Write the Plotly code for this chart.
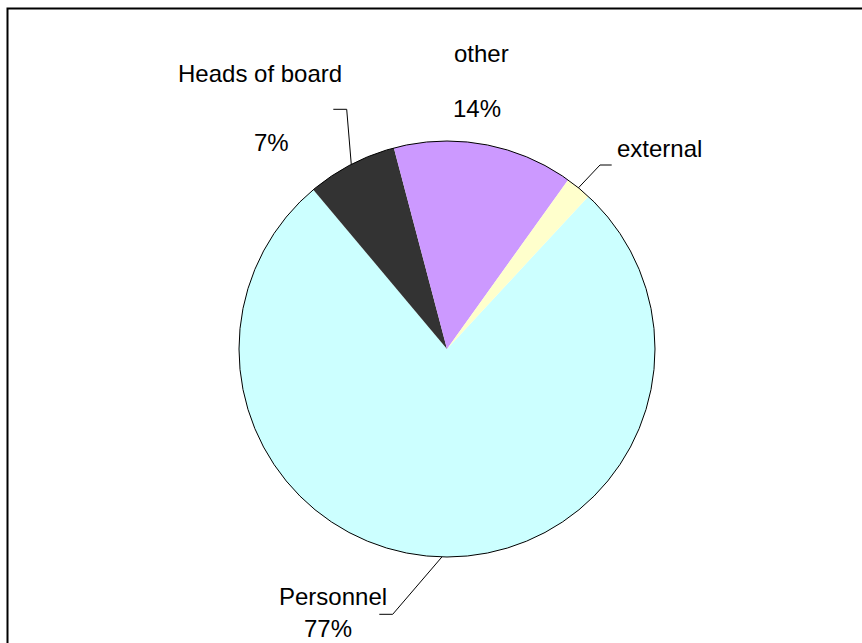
import math
import plotly.graph_objects as go

# Canvas size (px)
W, H = 862, 643

# Data
labels = ["Personnel", "Heads of board", "other", "external"]
values = [77, 7, 14, 2]
colors = ["#CCFFFF", "#333333", "#CC99FF", "#FFFFCC"]
show_pct = [True, True, True, False]
start_angle = 42.8  # first slice starts here, degrees clockwise from 12 o'clock

# Pie geometry (px)
cx, cy, rad = 447, 349, 208
FONT = dict(family="Arial, Liberation Sans, sans-serif", size=24, color="#000000")


def px(x):
    return x / W


def py(y):
    return 1 - y / H


def mid_point(idx):
    """Point on the rim at the middle angle of slice idx."""
    total = sum(values)
    ang = start_angle + 360 * (sum(values[:idx]) + values[idx] / 2) / total
    a = math.radians(ang)
    return cx + rad * math.sin(a), cy - rad * math.cos(a)


fig = go.Figure(
    go.Pie(
        labels=labels,
        values=values,
        sort=False,
        direction="clockwise",
        rotation=start_angle,
        marker=dict(colors=colors, line=dict(width=0)),
        textinfo="none",
        hoverinfo="label+percent",
        showlegend=False,
        domain=dict(x=[px(cx - rad), px(cx + rad)], y=[py(cy + rad), py(cy - rad)]),
    )
)

shapes = []
# outline of the pie
shapes.append(dict(type="circle", xref="paper", yref="paper",
                   x0=px(cx - rad), x1=px(cx + rad), y0=py(cy + rad), y1=py(cy - rad),
                   line=dict(color="#000000", width=1)))
# chart frame
shapes.append(dict(type="rect", xref="paper", yref="paper",
                   x0=px(7.5), x1=px(W + 10), y0=py(H + 10), y1=py(8.5),
                   line=dict(color="#000000", width=2)))

# label layout: leader elbow / tail (px), name text pos, percent text pos
label_layout = {
    "Personnel": dict(elbow=(392.7, 614.3), tail=(379.3, 614.3),
                      name=(277, 596), pct=(302, 628)),
    "Heads of board": dict(elbow=(346.7, 109.3), tail=(333.3, 109.3),
                           name=(176, 73), pct=(252, 142)),
    "other": dict(elbow=None, tail=None, name=(452, 53), pct=(451, 109)),
    "external": dict(elbow=(600, 165), tail=(611.7, 165), name=(615, 148), pct=None),
}

total = sum(values)
annotations = []
for i, lab in enumerate(labels):
    lay = label_layout[lab]
    if lay["elbow"] is not None:
        sx, sy = mid_point(i)
        ex, ey = lay["elbow"]
        tx, ty = lay["tail"]
        shapes.append(dict(type="path", xref="paper", yref="paper",
                           path=f"M {px(sx)},{py(sy)} L {px(ex)},{py(ey)} L {px(tx)},{py(ty)}",
                           line=dict(color="#000000", width=1)))
    nx, ny = lay["name"]
    annotations.append(dict(x=px(nx), y=py(ny), xref="paper", yref="paper",
                            text=lab, showarrow=False, xanchor="left", yanchor="middle",
                            font=FONT))
    if show_pct[i] and lay["pct"] is not None:
        qx, qy = lay["pct"]
        annotations.append(dict(x=px(qx), y=py(qy), xref="paper", yref="paper",
                                text=f"{round(100 * values[i] / total)}%", showarrow=False,
                                xanchor="left", yanchor="middle", font=FONT))

fig.update_layout(
    width=W, height=H,
    margin=dict(l=0, r=0, t=0, b=0, pad=0),
    paper_bgcolor="#FFFFFF",
    plot_bgcolor="#FFFFFF",
    shapes=shapes,
    annotations=annotations,
)

fig.write_html("out.html")
